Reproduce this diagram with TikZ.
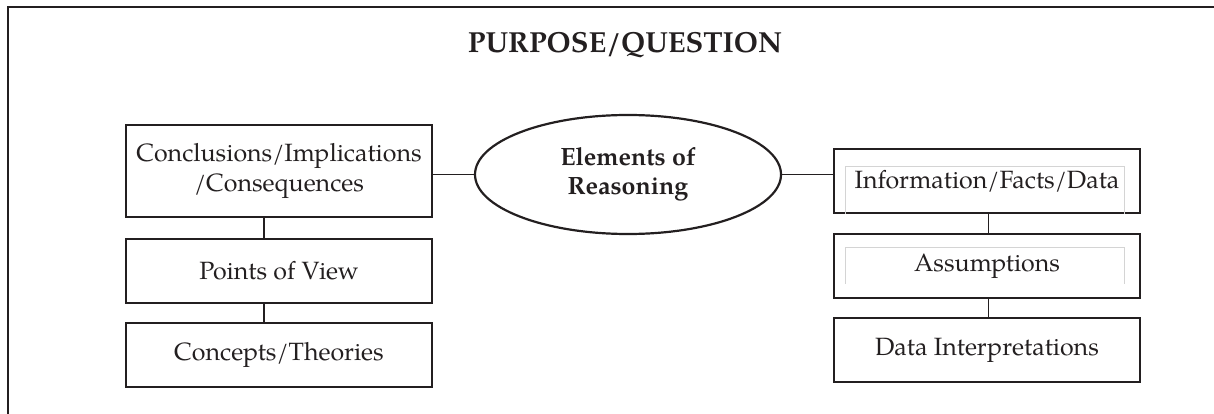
\documentclass[tikz,border=0pt]{standalone}
\usepackage{fontspec}
\setmainfont{TeX Gyre Pagella}
\usetikzlibrary{shapes.geometric}
\definecolor{ink}{HTML}{231F20}
\definecolor{faintline}{HTML}{D4D4D4}
\tikzset{
  box/.style={draw=ink, line width=1.3pt, rectangle, minimum width=306pt, inner sep=0pt,
    align=center, text=ink, font=\fontsize{25}{29.5}\selectfont},
  hibox/.style={box, minimum height=92pt},
  lobox/.style={box, minimum height=64pt},
  oval/.style={draw=ink, line width=2.2pt, ellipse, minimum width=306pt, minimum height=119pt,
    inner sep=0pt, align=center, text=ink, font=\bfseries\fontsize{25}{29}\selectfont},
  conn/.style={draw=ink, line width=1.8pt},
  frameline/.style={draw=ink, line width=2.4pt},
  faint/.style={draw=faintline, line width=0.8pt}
}
\begin{document}
\begin{tikzpicture}[x=1pt,y=-1pt]
\useasboundingbox (0,0) rectangle (1214,414);
% frame (top and left edges visible)
\coordinate (fbl) at (8,414);
\coordinate (ftl) at (8,7);
\coordinate (ftr) at (1214,7);
\draw[frameline] (fbl) -- (ftl) -- (ftr);
% title
\node[anchor=base, text=ink, font=\bfseries\fontsize{29}{34}\selectfont] (title) at (625,53) {PURPOSE/QUESTION};
% centre
\node[oval] (ell) at (628,174.5) {Elements of\\Reasoning};
% left column
\node[hibox] (concl) at (279,171) {Conclusions/Implications\\/Consequences};
\node[lobox] (pov) at (279,271) {Points of View};
\node[lobox] (conc) at (279,355) {Concepts/Theories};
% right column
\node[lobox] (info) at (987,181) {Information/Facts/Data};
\node[lobox] (assum) at (987,266) {Assumptions};
\node[lobox] (dint) at (987,350) {Data Interpretations};
% faint inner lines
\draw[faint] ([xshift=12pt]info.south west) |- ([xshift=12pt,yshift=-18pt]info.north west) -| ([xshift=-16pt]info.south east);
\draw[faint] ([xshift=12pt,yshift=15pt]assum.south west) |- ([xshift=12pt,yshift=-14pt]assum.north west) -| ([xshift=-16pt,yshift=15pt]assum.south east);
% connectors
\draw[conn] (ell.west) -- (ell.west -| concl.east);
\draw[conn] (ell.east) -- (ell.east -| info.west);
\draw[conn] ([xshift=-15pt]concl.south) -- ([xshift=-15pt]pov.north);
\draw[conn] ([xshift=-15pt]pov.south) -- ([xshift=-15pt]conc.north);
\draw[conn] ([xshift=1.5pt]info.south) -- ([xshift=1.5pt]assum.north);
\draw[conn] ([xshift=1.5pt]assum.south) -- ([xshift=1.5pt]dint.north);
\end{tikzpicture}
\end{document}
